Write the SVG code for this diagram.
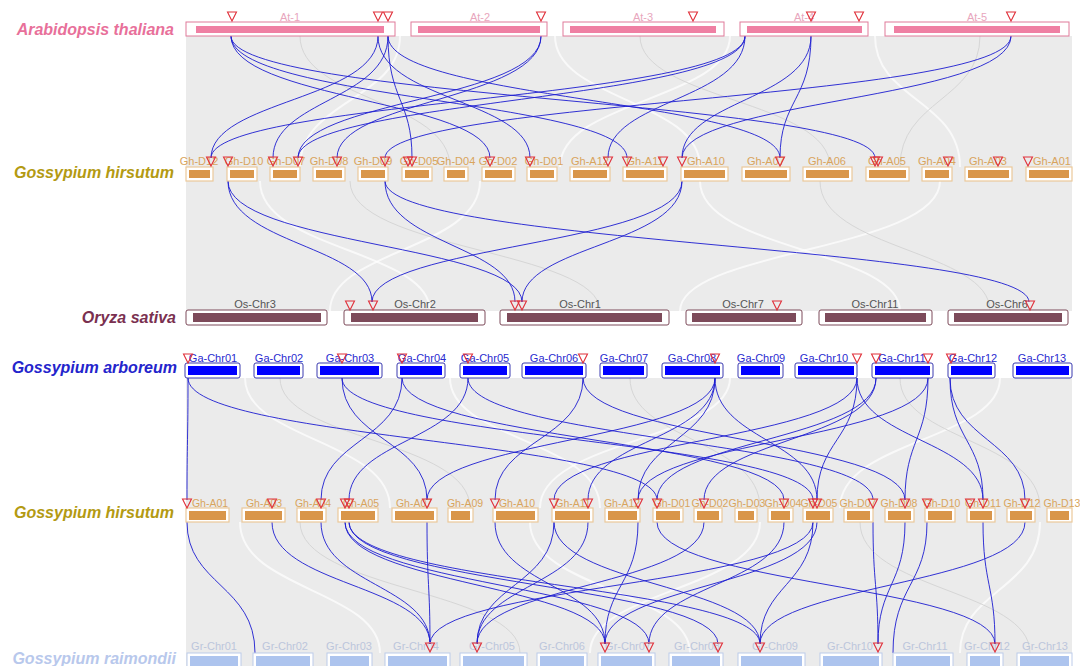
<svg xmlns="http://www.w3.org/2000/svg" xmlns:xlink="http://www.w3.org/1999/xlink" width="1080" height="666" viewBox="0 0 1080 666">
<defs>
<style>
.sp{font-family:"Liberation Sans",Arial,sans-serif;font-weight:bold;font-style:italic;font-size:16px;text-anchor:end}
.lb{font-family:"Liberation Sans",Arial,sans-serif;font-size:11px;text-anchor:middle}
.at .o{fill:#fff;stroke:#e07a9a;stroke-width:1}.at .b{fill:#ef7fa3}.at text{fill:#e8a6bd}
.gh .o{fill:#fff;stroke:#ebc99a;stroke-width:1.2}.gh .b{fill:#d9964a}.gh text{fill:#d9a45c}
#row-gh2 text{font-size:10.5px}
.os .o{fill:#fff;stroke:#7d4a5a;stroke-width:1}.os .b{fill:#7d4a5a}.os text{fill:#555}
.ga .o{fill:#fff;stroke:#3a3ab0;stroke-width:1}.ga .b{fill:#0000ff}.ga text{fill:#2a2ad0}
.gr .o{fill:#fff;stroke:#bccbea;stroke-width:1}.gr .b{fill:#adc4ee}.gr text{fill:#bcc6dc}
.tri{fill:none;stroke:#e0303a;stroke-width:1.1}
.bl{fill:none;stroke:#1c1cd0;stroke-width:0.9}
.wl{fill:none;stroke:#fff;stroke-width:2;opacity:0.7}
.gl{fill:none;stroke:#d6d6d6;stroke-width:1}
</style>
<path id="t" d="M-4.5,0 L4.5,0 L0,9 Z"/>
</defs>
<rect width="1080" height="666" fill="#fff"/>
<g id="background">
<rect x="186" y="36" width="886" height="275" fill="#ebebeb"/>
<rect x="186" y="378" width="886" height="288" fill="#ebebeb"/>
<path class="wl" d="M400,36 C400,100 300,100 300,167"/>
<path class="wl" d="M555,36 C555,100 700,100 700,167"/>
<path class="wl" d="M730,36 C730,100 560,100 560,167"/>
<path class="wl" d="M875,36 C875,100 960,100 960,167"/>
<path class="wl" d="M260,181 C260,250 430,250 430,311"/>
<path class="wl" d="M480,181 C480,250 330,250 330,311"/>
<path class="wl" d="M700,181 C700,250 900,250 900,311"/>
<path class="wl" d="M940,181 C940,250 680,250 680,311"/>
<path class="wl" d="M245,378 C245,440 390,440 390,508"/>
<path class="wl" d="M450,378 C450,440 600,440 600,508"/>
<path class="wl" d="M730,378 C730,440 540,440 540,508"/>
<path class="wl" d="M1000,378 C1000,440 840,440 840,508"/>
<path class="wl" d="M240,522 C240,590 380,590 380,653"/>
<path class="wl" d="M530,522 C530,590 690,590 690,653"/>
<path class="wl" d="M760,522 C760,590 590,590 590,653"/>
<path class="wl" d="M1040,522 C1040,590 960,590 960,653"/>
<path class="gl" d="M300,36 C300,100 450,100 450,167"/>
<path class="gl" d="M640,36 C640,100 830,100 830,167"/>
<path class="gl" d="M980,36 C980,100 900,100 900,167"/>
<path class="gl" d="M350,181 C350,250 600,250 600,311"/>
<path class="gl" d="M820,181 C820,250 990,250 990,311"/>
<path class="gl" d="M280,378 C280,440 470,440 470,508"/>
<path class="gl" d="M630,378 C630,440 760,440 760,508"/>
<path class="gl" d="M900,378 C900,440 1040,440 1040,508"/>
<path class="gl" d="M300,522 C300,590 520,590 520,653"/>
<path class="gl" d="M860,522 C860,590 1030,590 1030,653"/>
</g>
<g id="species-labels">
<text class="sp" x="174" y="35" fill="#e8709a">Arabidopsis thaliana</text>
<text class="sp" x="174" y="178" fill="#b39a12">Gossypium hirsutum</text>
<text class="sp" x="176" y="323" fill="#7a3050">Oryza sativa</text>
<text class="sp" x="177" y="373" fill="#2424cc">Gossypium arboreum</text>
<text class="sp" x="174" y="518" fill="#b39a12">Gossypium hirsutum</text>
<text class="sp" x="176" y="664" fill="#b8c8ec">Gossypium raimondii</text>
</g>
<g id="connectors">
<path class="bl" d="M231,36 C231,100 490,100 490,158"/>
<path class="bl" d="M231,36 C231,100 627,100 627,158"/>
<path class="bl" d="M231,36 C231,100 875,100 875,158"/>
<path class="bl" d="M378,36 C378,100 211,100 211,158"/>
<path class="bl" d="M378,36 C378,100 530,100 530,158"/>
<path class="bl" d="M388,36 C388,100 412,100 412,158"/>
<path class="bl" d="M388,36 C388,100 273,100 273,158"/>
<path class="bl" d="M388,36 C388,100 780,100 780,158"/>
<path class="bl" d="M541,36 C541,100 337,100 337,158"/>
<path class="bl" d="M541,36 C541,100 298,100 298,158"/>
<path class="bl" d="M745,36 C745,100 211,100 211,158"/>
<path class="bl" d="M745,36 C745,100 298,100 298,158"/>
<path class="bl" d="M745,36 C745,100 608,100 608,158"/>
<path class="bl" d="M811,36 C811,100 780,100 780,158"/>
<path class="bl" d="M811,36 C811,100 682,100 682,158"/>
<path class="bl" d="M1011,36 C1011,100 682,100 682,158"/>
<path class="bl" d="M1011,36 C1011,100 385,100 385,158"/>
<path class="bl" d="M228,181 C228,245 372,245 372,302"/>
<path class="bl" d="M228,181 C228,245 522,245 522,302"/>
<path class="bl" d="M385,181 C385,245 515,245 515,302"/>
<path class="bl" d="M385,181 C385,245 1029,245 1029,302"/>
<path class="bl" d="M682,181 C682,245 372,245 372,302"/>
<path class="bl" d="M682,181 C682,245 522,245 522,302"/>
<path class="bl" d="M188,378 C188,440 187,440 187,500"/>
<path class="bl" d="M188,378 C188,440 657,440 657,500"/>
<path class="bl" d="M342,378 C342,440 427,440 427,500"/>
<path class="bl" d="M342,378 C342,440 813,440 813,500"/>
<path class="bl" d="M402,378 C402,440 321,440 321,500"/>
<path class="bl" d="M402,378 C402,440 784,440 784,500"/>
<path class="bl" d="M468,378 C468,440 349,440 349,500"/>
<path class="bl" d="M468,378 C468,440 873,440 873,500"/>
<path class="bl" d="M583,378 C583,440 495,440 495,500"/>
<path class="bl" d="M583,378 C583,440 905,440 905,500"/>
<path class="bl" d="M715,378 C715,440 588,440 588,500"/>
<path class="bl" d="M715,378 C715,440 427,440 427,500"/>
<path class="bl" d="M715,378 C715,440 638,440 638,500"/>
<path class="bl" d="M715,378 C715,440 817,440 817,500"/>
<path class="bl" d="M857,378 C857,440 554,440 554,500"/>
<path class="bl" d="M857,378 C857,440 817,440 817,500"/>
<path class="bl" d="M857,378 C857,440 983,440 983,500"/>
<path class="bl" d="M876,378 C876,440 704,440 704,500"/>
<path class="bl" d="M876,378 C876,440 657,440 657,500"/>
<path class="bl" d="M928,378 C928,440 905,440 905,500"/>
<path class="bl" d="M928,378 C928,440 638,440 638,500"/>
<path class="bl" d="M950,378 C950,440 983,440 983,500"/>
<path class="bl" d="M950,378 C950,440 1025,440 1025,500"/>
<path class="bl" d="M187,522 C187,585 255,585 255,653"/>
<path class="bl" d="M272,522 C272,585 430,585 430,644"/>
<path class="bl" d="M321,522 C321,585 430,585 430,644"/>
<path class="bl" d="M345,522 C345,585 649,585 649,644"/>
<path class="bl" d="M349,522 C349,585 760,585 760,644"/>
<path class="bl" d="M349,522 C349,585 718,585 718,644"/>
<path class="bl" d="M345,522 C345,585 605,585 605,644"/>
<path class="bl" d="M427,522 C427,585 430,585 430,644"/>
<path class="bl" d="M495,522 C495,585 605,585 605,644"/>
<path class="bl" d="M554,522 C554,585 477,585 477,644"/>
<path class="bl" d="M554,522 C554,585 760,585 760,644"/>
<path class="bl" d="M588,522 C588,585 477,585 477,644"/>
<path class="bl" d="M638,522 C638,585 605,585 605,644"/>
<path class="bl" d="M657,522 C657,585 995,585 995,644"/>
<path class="bl" d="M704,522 C704,585 477,585 477,644"/>
<path class="bl" d="M784,522 C784,585 649,585 649,644"/>
<path class="bl" d="M813,522 C813,585 760,585 760,644"/>
<path class="bl" d="M813,522 C813,585 430,585 430,644"/>
<path class="bl" d="M817,522 C817,585 605,585 605,644"/>
<path class="bl" d="M873,522 C873,585 878,585 878,644"/>
<path class="bl" d="M905,522 C905,585 878,585 878,644"/>
<path class="bl" d="M927,522 C927,585 893,585 893,653"/>
<path class="bl" d="M983,522 C983,585 995,585 995,644"/>
<path class="bl" d="M1025,522 C1025,585 760,585 760,644"/>
</g>
<g id="row-at" class="at">
<g id="At-1"><rect class="o" x="186" y="22" width="209" height="14"/><rect class="b" x="196" y="26" width="188" height="7"/><text class="lb" x="290" y="21">At-1</text><use href="#t" class="tri" x="232" y="12"/><use href="#t" class="tri" x="378" y="12"/><use href="#t" class="tri" x="388" y="12"/></g>
<g id="At-2"><rect class="o" x="411" y="22" width="136" height="14"/><rect class="b" x="418" y="26" width="122" height="7"/><text class="lb" x="480" y="21">At-2</text><use href="#t" class="tri" x="541" y="12"/></g>
<g id="At-3"><rect class="o" x="563" y="22" width="161" height="14"/><rect class="b" x="570" y="26" width="146" height="7"/><text class="lb" x="643" y="21">At-3</text><use href="#t" class="tri" x="693" y="12"/></g>
<g id="At-4"><rect class="o" x="740" y="22" width="128" height="14"/><rect class="b" x="747" y="26" width="115" height="7"/><text class="lb" x="804" y="21">At-4</text><use href="#t" class="tri" x="811" y="12"/><use href="#t" class="tri" x="859" y="12"/></g>
<g id="At-5"><rect class="o" x="885" y="22" width="184" height="14"/><rect class="b" x="894" y="26" width="166" height="7"/><text class="lb" x="977" y="21">At-5</text><use href="#t" class="tri" x="1011" y="12"/></g>
</g>
<g id="row-gh1" class="gh">
<g id="Gh1-D12"><rect class="o" x="186" y="167" width="27" height="14"/><rect class="b" x="189" y="170" width="21" height="8"/><text class="lb" x="199" y="165">Gh-D12</text><use href="#t" class="tri" x="211" y="157"/></g>
<g id="Gh1-D10"><rect class="o" x="227" y="167" width="30" height="14"/><rect class="b" x="230" y="170" width="24" height="8"/><text class="lb" x="244" y="165">Gh-D10</text><use href="#t" class="tri" x="228" y="157"/></g>
<g id="Gh1-D07"><rect class="o" x="270" y="167" width="30" height="14"/><rect class="b" x="273" y="170" width="24" height="8"/><text class="lb" x="286" y="165">Gh-D07</text><use href="#t" class="tri" x="273" y="157"/><use href="#t" class="tri" x="298" y="157"/></g>
<g id="Gh1-D08"><rect class="o" x="313" y="167" width="32" height="14"/><rect class="b" x="316" y="170" width="26" height="8"/><text class="lb" x="329" y="165">Gh-D08</text><use href="#t" class="tri" x="337" y="157"/></g>
<g id="Gh1-D09"><rect class="o" x="358" y="167" width="30" height="14"/><rect class="b" x="361" y="170" width="24" height="8"/><text class="lb" x="373" y="165">Gh-D09</text><use href="#t" class="tri" x="385" y="157"/></g>
<g id="Gh1-D05"><rect class="o" x="402" y="167" width="30" height="14"/><rect class="b" x="405" y="170" width="24" height="8"/><text class="lb" x="419" y="165">Gh-D05</text><use href="#t" class="tri" x="408" y="157"/><use href="#t" class="tri" x="412" y="157"/></g>
<g id="Gh1-D04"><rect class="o" x="444" y="167" width="24" height="14"/><rect class="b" x="447" y="170" width="18" height="8"/><text class="lb" x="456" y="165">Gh-D04</text></g>
<g id="Gh1-D02"><rect class="o" x="482" y="167" width="33" height="14"/><rect class="b" x="485" y="170" width="27" height="8"/><text class="lb" x="498" y="165">Gh-D02</text><use href="#t" class="tri" x="490" y="157"/></g>
<g id="Gh1-D01"><rect class="o" x="527" y="167" width="30" height="14"/><rect class="b" x="530" y="170" width="24" height="8"/><text class="lb" x="544" y="165">Gh-D01</text><use href="#t" class="tri" x="530" y="157"/></g>
<g id="Gh1-A12"><rect class="o" x="570" y="167" width="40" height="14"/><rect class="b" x="573" y="170" width="34" height="8"/><text class="lb" x="590" y="165">Gh-A12</text><use href="#t" class="tri" x="608" y="157"/></g>
<g id="Gh1-A11"><rect class="o" x="623" y="167" width="44" height="14"/><rect class="b" x="626" y="170" width="38" height="8"/><text class="lb" x="645" y="165">Gh-A11</text><use href="#t" class="tri" x="627" y="157"/><use href="#t" class="tri" x="663" y="157"/></g>
<g id="Gh1-A10"><rect class="o" x="681" y="167" width="47" height="14"/><rect class="b" x="684" y="170" width="41" height="8"/><text class="lb" x="706" y="165">Gh-A10</text><use href="#t" class="tri" x="682" y="157"/></g>
<g id="Gh1-A07"><rect class="o" x="742" y="167" width="48" height="14"/><rect class="b" x="745" y="170" width="42" height="8"/><text class="lb" x="766" y="165">Gh-A07</text><use href="#t" class="tri" x="780" y="157"/></g>
<g id="Gh1-A06"><rect class="o" x="803" y="167" width="49" height="14"/><rect class="b" x="806" y="170" width="43" height="8"/><text class="lb" x="827" y="165">Gh-A06</text></g>
<g id="Gh1-A05"><rect class="o" x="866" y="167" width="43" height="14"/><rect class="b" x="869" y="170" width="37" height="8"/><text class="lb" x="887" y="165">Gh-A05</text><use href="#t" class="tri" x="875" y="157"/><use href="#t" class="tri" x="878" y="157"/></g>
<g id="Gh1-A04"><rect class="o" x="922" y="167" width="30" height="14"/><rect class="b" x="925" y="170" width="24" height="8"/><text class="lb" x="937" y="165">Gh-A04</text><use href="#t" class="tri" x="948" y="157"/></g>
<g id="Gh1-A03"><rect class="o" x="965" y="167" width="47" height="14"/><rect class="b" x="968" y="170" width="41" height="8"/><text class="lb" x="988" y="165">Gh-A03</text><use href="#t" class="tri" x="998" y="157"/></g>
<g id="Gh1-A01"><rect class="o" x="1026" y="167" width="46" height="14"/><rect class="b" x="1029" y="170" width="40" height="8"/><text class="lb" x="1052" y="165">Gh-A01</text><use href="#t" class="tri" x="1028" y="157"/></g>
</g>
<g id="row-os" class="os">
<g id="Os-Chr3"><rect class="o" x="186" y="310" width="141" height="15" rx="2"/><rect class="b" x="193" y="313" width="128" height="9"/><text class="lb" x="255" y="308">Os-Chr3</text></g>
<g id="Os-Chr2"><rect class="o" x="344" y="310" width="141" height="15" rx="2"/><rect class="b" x="351" y="313" width="127" height="9"/><text class="lb" x="415" y="308">Os-Chr2</text><use href="#t" class="tri" x="350" y="301"/><use href="#t" class="tri" x="373" y="301"/></g>
<g id="Os-Chr1"><rect class="o" x="500" y="310" width="169" height="15" rx="2"/><rect class="b" x="507" y="313" width="155" height="9"/><text class="lb" x="580" y="308">Os-Chr1</text><use href="#t" class="tri" x="515" y="301"/><use href="#t" class="tri" x="522" y="301"/></g>
<g id="Os-Chr7"><rect class="o" x="686" y="310" width="116" height="15" rx="2"/><rect class="b" x="692" y="313" width="104" height="9"/><text class="lb" x="743" y="308">Os-Chr7</text><use href="#t" class="tri" x="777" y="301"/></g>
<g id="Os-Chr11"><rect class="o" x="819" y="310" width="113" height="15" rx="2"/><rect class="b" x="825" y="313" width="101" height="9"/><text class="lb" x="875" y="308">Os-Chr11</text></g>
<g id="Os-Chr6"><rect class="o" x="948" y="310" width="120" height="15" rx="2"/><rect class="b" x="954" y="313" width="108" height="9"/><text class="lb" x="1007" y="308">Os-Chr6</text><use href="#t" class="tri" x="1030" y="301"/></g>
</g>
<g id="row-ga" class="ga">
<g id="Ga-Chr01"><rect class="o" x="185" y="363" width="55" height="15" rx="2"/><rect class="b" x="188" y="366" width="49" height="9"/><text class="lb" x="213" y="362">Ga-Chr01</text><use href="#t" class="tri" x="188" y="354"/></g>
<g id="Ga-Chr02"><rect class="o" x="254" y="363" width="49" height="15" rx="2"/><rect class="b" x="257" y="366" width="43" height="9"/><text class="lb" x="279" y="362">Ga-Chr02</text></g>
<g id="Ga-Chr03"><rect class="o" x="317" y="363" width="65" height="15" rx="2"/><rect class="b" x="320" y="366" width="59" height="9"/><text class="lb" x="350" y="362">Ga-Chr03</text><use href="#t" class="tri" x="342" y="354"/></g>
<g id="Ga-Chr04"><rect class="o" x="397" y="363" width="48" height="15" rx="2"/><rect class="b" x="400" y="366" width="42" height="9"/><text class="lb" x="422" y="362">Ga-Chr04</text><use href="#t" class="tri" x="402" y="354"/></g>
<g id="Ga-Chr05"><rect class="o" x="460" y="363" width="50" height="15" rx="2"/><rect class="b" x="463" y="366" width="44" height="9"/><text class="lb" x="485" y="362">Ga-Chr05</text><use href="#t" class="tri" x="468" y="354"/></g>
<g id="Ga-Chr06"><rect class="o" x="522" y="363" width="64" height="15" rx="2"/><rect class="b" x="525" y="366" width="58" height="9"/><text class="lb" x="554" y="362">Ga-Chr06</text><use href="#t" class="tri" x="583" y="354"/></g>
<g id="Ga-Chr07"><rect class="o" x="600" y="363" width="47" height="15" rx="2"/><rect class="b" x="603" y="366" width="41" height="9"/><text class="lb" x="624" y="362">Ga-Chr07</text></g>
<g id="Ga-Chr08"><rect class="o" x="662" y="363" width="61" height="15" rx="2"/><rect class="b" x="665" y="366" width="55" height="9"/><text class="lb" x="692" y="362">Ga-Chr08</text><use href="#t" class="tri" x="715" y="354"/></g>
<g id="Ga-Chr09"><rect class="o" x="738" y="363" width="45" height="15" rx="2"/><rect class="b" x="741" y="366" width="39" height="9"/><text class="lb" x="761" y="362">Ga-Chr09</text></g>
<g id="Ga-Chr10"><rect class="o" x="795" y="363" width="62" height="15" rx="2"/><rect class="b" x="798" y="366" width="56" height="9"/><text class="lb" x="824" y="362">Ga-Chr10</text><use href="#t" class="tri" x="857" y="354"/></g>
<g id="Ga-Chr11"><rect class="o" x="872" y="363" width="61" height="15" rx="2"/><rect class="b" x="875" y="366" width="55" height="9"/><text class="lb" x="902" y="362">Ga-Chr11</text><use href="#t" class="tri" x="876" y="354"/><use href="#t" class="tri" x="928" y="354"/></g>
<g id="Ga-Chr12"><rect class="o" x="948" y="363" width="47" height="15" rx="2"/><rect class="b" x="951" y="366" width="41" height="9"/><text class="lb" x="973" y="362">Ga-Chr12</text><use href="#t" class="tri" x="951" y="354"/></g>
<g id="Ga-Chr13"><rect class="o" x="1013" y="363" width="59" height="15" rx="2"/><rect class="b" x="1016" y="366" width="53" height="9"/><text class="lb" x="1042" y="362">Ga-Chr13</text></g>
</g>
<g id="row-gh2" class="gh">
<g id="Gh2-A01"><rect class="o" x="186" y="508" width="43" height="14"/><rect class="b" x="189" y="511" width="37" height="9"/><text class="lb" x="210" y="507">Gh-A01</text><use href="#t" class="tri" x="187" y="499"/></g>
<g id="Gh2-A03"><rect class="o" x="242" y="508" width="43" height="14"/><rect class="b" x="245" y="511" width="37" height="9"/><text class="lb" x="264" y="507">Gh-A03</text><use href="#t" class="tri" x="272" y="499"/></g>
<g id="Gh2-A04"><rect class="o" x="297" y="508" width="29" height="14"/><rect class="b" x="300" y="511" width="23" height="9"/><text class="lb" x="313" y="507">Gh-A04</text><use href="#t" class="tri" x="321" y="499"/></g>
<g id="Gh2-A05"><rect class="o" x="338" y="508" width="40" height="14"/><rect class="b" x="341" y="511" width="34" height="9"/><text class="lb" x="361" y="507">Gh-A05</text><use href="#t" class="tri" x="345" y="499"/><use href="#t" class="tri" x="349" y="499"/></g>
<g id="Gh2-A07"><rect class="o" x="392" y="508" width="45" height="14"/><rect class="b" x="395" y="511" width="39" height="9"/><text class="lb" x="414" y="507">Gh-A07</text><use href="#t" class="tri" x="427" y="499"/></g>
<g id="Gh2-A09"><rect class="o" x="448" y="508" width="25" height="14"/><rect class="b" x="451" y="511" width="19" height="9"/><text class="lb" x="465" y="507">Gh-A09</text></g>
<g id="Gh2-A10"><rect class="o" x="493" y="508" width="45" height="14"/><rect class="b" x="496" y="511" width="39" height="9"/><text class="lb" x="517" y="507">Gh-A10</text><use href="#t" class="tri" x="495" y="499"/></g>
<g id="Gh2-A11"><rect class="o" x="552" y="508" width="41" height="14"/><rect class="b" x="555" y="511" width="35" height="9"/><text class="lb" x="573" y="507">Gh-A11</text><use href="#t" class="tri" x="554" y="499"/><use href="#t" class="tri" x="588" y="499"/></g>
<g id="Gh2-A12"><rect class="o" x="605" y="508" width="35" height="14"/><rect class="b" x="608" y="511" width="29" height="9"/><text class="lb" x="622" y="507">Gh-A12</text><use href="#t" class="tri" x="638" y="499"/></g>
<g id="Gh2-D01"><rect class="o" x="653" y="508" width="30" height="14"/><rect class="b" x="656" y="511" width="24" height="9"/><text class="lb" x="672" y="507">Gh-D01</text><use href="#t" class="tri" x="657" y="499"/></g>
<g id="Gh2-D02"><rect class="o" x="694" y="508" width="28" height="14"/><rect class="b" x="697" y="511" width="22" height="9"/><text class="lb" x="710" y="507">Gh-D02</text><use href="#t" class="tri" x="704" y="499"/></g>
<g id="Gh2-D03"><rect class="o" x="735" y="508" width="22" height="14"/><rect class="b" x="738" y="511" width="16" height="9"/><text class="lb" x="747" y="507">Gh-D03</text></g>
<g id="Gh2-D04"><rect class="o" x="768" y="508" width="25" height="14"/><rect class="b" x="771" y="511" width="19" height="9"/><text class="lb" x="783" y="507">Gh-D04</text><use href="#t" class="tri" x="784" y="499"/></g>
<g id="Gh2-D05"><rect class="o" x="803" y="508" width="30" height="14"/><rect class="b" x="806" y="511" width="24" height="9"/><text class="lb" x="819" y="507">Gh-D05</text><use href="#t" class="tri" x="813" y="499"/><use href="#t" class="tri" x="817" y="499"/></g>
<g id="Gh2-D07"><rect class="o" x="844" y="508" width="29" height="14"/><rect class="b" x="847" y="511" width="23" height="9"/><text class="lb" x="858" y="507">Gh-D07</text><use href="#t" class="tri" x="873" y="499"/></g>
<g id="Gh2-D08"><rect class="o" x="885" y="508" width="29" height="14"/><rect class="b" x="888" y="511" width="23" height="9"/><text class="lb" x="899" y="507">Gh-D08</text><use href="#t" class="tri" x="905" y="499"/></g>
<g id="Gh2-D10"><rect class="o" x="925" y="508" width="30" height="14"/><rect class="b" x="928" y="511" width="24" height="9"/><text class="lb" x="942" y="507">Gh-D10</text><use href="#t" class="tri" x="927" y="499"/></g>
<g id="Gh2-D11"><rect class="o" x="967" y="508" width="28" height="14"/><rect class="b" x="970" y="511" width="22" height="9"/><text class="lb" x="983" y="507">Gh-D11</text><use href="#t" class="tri" x="970" y="499"/><use href="#t" class="tri" x="983" y="499"/></g>
<g id="Gh2-D12"><rect class="o" x="1007" y="508" width="28" height="14"/><rect class="b" x="1010" y="511" width="22" height="9"/><text class="lb" x="1022" y="507">Gh-D12</text><use href="#t" class="tri" x="1025" y="499"/></g>
<g id="Gh2-D13"><rect class="o" x="1047" y="508" width="25" height="14"/><rect class="b" x="1050" y="511" width="19" height="9"/><text class="lb" x="1062" y="507">Gh-D13</text></g>
</g>
<g id="row-gr" class="gr">
<g id="Gr-Chr01"><rect class="o" x="187" y="653" width="54" height="14"/><rect class="b" x="190" y="656" width="48" height="11"/><text class="lb" x="214" y="650">Gr-Chr01</text></g>
<g id="Gr-Chr02"><rect class="o" x="253" y="653" width="60" height="14"/><rect class="b" x="256" y="656" width="54" height="11"/><text class="lb" x="285" y="650">Gr-Chr02</text></g>
<g id="Gr-Chr03"><rect class="o" x="327" y="653" width="45" height="14"/><rect class="b" x="330" y="656" width="39" height="11"/><text class="lb" x="349" y="650">Gr-Chr03</text></g>
<g id="Gr-Chr04"><rect class="o" x="385" y="653" width="65" height="14"/><rect class="b" x="388" y="656" width="59" height="11"/><text class="lb" x="416" y="650">Gr-Chr04</text><use href="#t" class="tri" x="430" y="643"/></g>
<g id="Gr-Chr05"><rect class="o" x="460" y="653" width="67" height="14"/><rect class="b" x="463" y="656" width="61" height="11"/><text class="lb" x="492" y="650">Gr-Chr05</text><use href="#t" class="tri" x="477" y="643"/></g>
<g id="Gr-Chr06"><rect class="o" x="537" y="653" width="50" height="14"/><rect class="b" x="540" y="656" width="44" height="11"/><text class="lb" x="562" y="650">Gr-Chr06</text></g>
<g id="Gr-Chr07"><rect class="o" x="598" y="653" width="57" height="14"/><rect class="b" x="601" y="656" width="51" height="11"/><text class="lb" x="628" y="650">Gr-Chr07</text><use href="#t" class="tri" x="605" y="643"/><use href="#t" class="tri" x="649" y="643"/></g>
<g id="Gr-Chr08"><rect class="o" x="669" y="653" width="54" height="14"/><rect class="b" x="672" y="656" width="48" height="11"/><text class="lb" x="697" y="650">Gr-Chr08</text><use href="#t" class="tri" x="718" y="643"/></g>
<g id="Gr-Chr09"><rect class="o" x="738" y="653" width="67" height="14"/><rect class="b" x="741" y="656" width="61" height="11"/><text class="lb" x="775" y="650">Gr-Chr09</text><use href="#t" class="tri" x="760" y="643"/></g>
<g id="Gr-Chr10"><rect class="o" x="820" y="653" width="62" height="14"/><rect class="b" x="823" y="656" width="56" height="11"/><text class="lb" x="850" y="650">Gr-Chr10</text><use href="#t" class="tri" x="878" y="643"/></g>
<g id="Gr-Chr11"><rect class="o" x="893" y="653" width="60" height="14"/><rect class="b" x="896" y="656" width="54" height="11"/><text class="lb" x="925" y="650">Gr-Chr11</text></g>
<g id="Gr-Chr12"><rect class="o" x="967" y="653" width="36" height="14"/><rect class="b" x="970" y="656" width="30" height="11"/><text class="lb" x="987" y="650">Gr-Chr12</text><use href="#t" class="tri" x="995" y="643"/></g>
<g id="Gr-Chr13"><rect class="o" x="1017" y="653" width="55" height="14"/><rect class="b" x="1020" y="656" width="49" height="11"/><text class="lb" x="1045" y="650">Gr-Chr13</text></g>
</g>
</svg>
